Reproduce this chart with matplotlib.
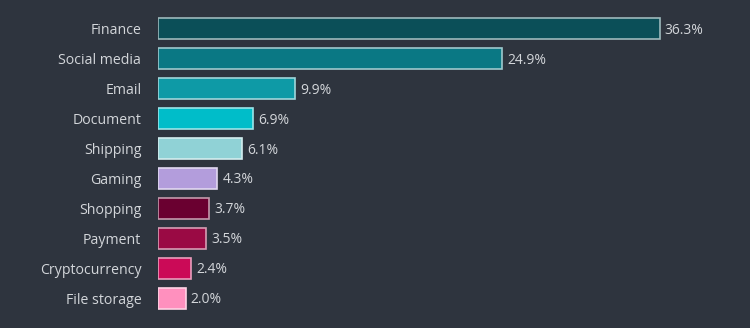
import matplotlib
matplotlib.use("Agg")
import matplotlib.pyplot as plt
import matplotlib.colors as mcolors
import numpy as np

categories = ["Finance", "Social media", "Email", "Document", "Shipping",
              "Gaming", "Shopping", "Payment", "Cryptocurrency", "File storage"]
values = [36.3, 24.9, 9.9, 6.9, 6.1, 4.3, 3.7, 3.5, 2.4, 2.0]
colors = ["#0b4f58", "#0a7884", "#0e9aa6", "#00bdc9", "#90d2d6",
          "#b39ddc", "#6a0030", "#9a0a44", "#cb0a57", "#ff90be"]

bg = "#2e343e"
txt = "#d3d6da"

plt.rcParams['font.family'] = ['Open Sans', 'DejaVu Sans']

fig = plt.figure(figsize=(7.5, 3.28), dpi=100, facecolor=bg)
ax = fig.add_axes([158/750, 15/328, 592/750, 299/328])
ax.set_facecolor(bg)

y = np.arange(len(categories))
edges = []
for c in colors:
    r = np.array(mcolors.to_rgb(c))
    edges.append(tuple(r + (1 - r) * 0.6))

ax.barh(y, values, height=0.7, color=colors, edgecolor=edges, linewidth=1.2)
for yi, v in zip(y, values):
    ax.text(v + 0.35, yi + 0.05, f"{v:.1f}%", va="center", ha="left", color=txt, fontsize=10)

ax.set_xlim(0, 592/13.83)
ax.set_ylim(len(categories) - 0.5, -0.5)
ax.set_yticks(y)
ax.set_yticklabels(categories, color=txt, fontsize=10.2)
ax.tick_params(axis='y', length=0, pad=12)
ax.set_xticks([])
for s in ax.spines.values():
    s.set_visible(False)

fig.savefig("out.png", dpi=100, facecolor=bg)
